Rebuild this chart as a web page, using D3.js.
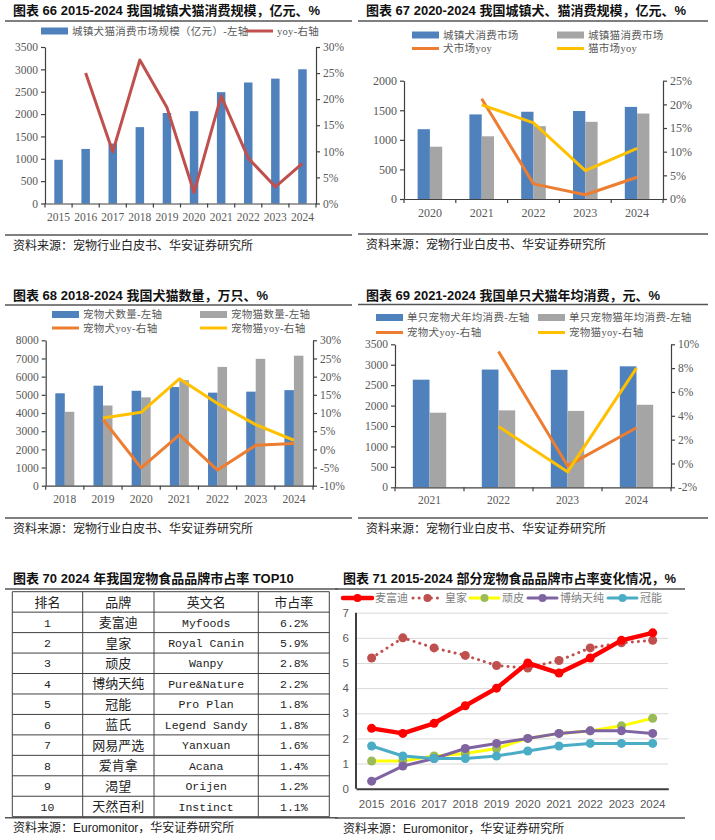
<!DOCTYPE html>
<html>
<head>
<meta charset="utf-8">
<script src="https://cdn.jsdelivr.net/npm/d3@7"></script>
<style>
  body { margin: 0; background: #fff; }
</style>
</head>
<body>
<svg id="page" width="715" height="840"></svg>
<script>
// ---- data: 图表66 ----
const years66 = ["2015", "2016", "2017", "2018", "2019", "2020", "2021", "2022", "2023", "2024"];
const scale66 = [978, 1220, 1340, 1708, 2024, 2065, 2490, 2706, 2793, 3002];
const yoy66 = [null, 25.0, 9.9, 27.5, 18.4, 2.1, 20.6, 8.7, 3.2, 7.7];

// ---- data: 图表67 ----
const years67 = ["2020", "2021", "2022", "2023", "2024"];
const dog67 = [1180, 1430, 1475, 1488, 1557];
const cat67 = [884, 1060, 1231, 1305, 1445];
const dogYoy67 = [null, 21.2, 3.2, 0.9, 4.6];
const catYoy67 = [null, 19.9, 16.1, 6.0, 10.7];

// ---- data: 图表68 ----
const years68 = ["2018", "2019", "2020", "2021", "2022", "2023", "2024"];
const dog68 = [5085, 5503, 5222, 5429, 5119, 5175, 5258];
const cat68 = [4064, 4412, 4862, 5806, 6536, 6980, 7153];
const dogYoy68 = [null, 8.2, -5.1, 4.0, -5.7, 1.1, 1.6];
const catYoy68 = [null, 8.6, 10.2, 19.4, 12.6, 6.8, 2.5];

// ---- data: 图表69 ----
const years69 = ["2021", "2022", "2023", "2024"];
const dog69 = [2634, 2882, 2875, 2961];
const cat69 = [1826, 1883, 1870, 2020];
const dogYoy69 = [null, 9.4, -0.2, 3.0];
const catYoy69 = [null, 3.1, -0.7, 8.0];

// ---- data: 图表70 ----
const tableHead = ["排名", "品牌", "英文名", "市占率"];
const ranks = ["1", "2", "3", "4", "5", "6", "7", "8", "9", "10"];
const brandCn = ["麦富迪", "皇家", "顽皮", "博纳天纯", "冠能", "蓝氏", "网易严选", "爱肯拿", "渴望", "天然百利"];
const brandEn = ["Myfoods", "Royal Canin", "Wanpy", "Pure&Nature", "Pro Plan", "Legend Sandy", "Yanxuan", "Acana", "Orijen", "Instinct"];
const share70 = ["6.2%", "5.9%", "2.8%", "2.2%", "1.8%", "1.8%", "1.6%", "1.4%", "1.2%", "1.1%"];

// ---- data: 图表71 ----
const years71 = ["2015", "2016", "2017", "2018", "2019", "2020", "2021", "2022", "2023", "2024"];
const myfoods = [2.4, 2.2, 2.6, 3.3, 4.0, 5.0, 4.6, 5.2, 5.9, 6.2];
const royal = [5.2, 6.0, 5.6, 5.3, 4.9, 4.8, 5.1, 5.6, 5.8, 5.9];
const wanpy = [1.1, 1.1, 1.3, 1.4, 1.6, 2.0, 2.2, 2.3, 2.5, 2.8];
const pureNature = [0.3, 0.9, 1.2, 1.6, 1.8, 2.0, 2.2, 2.3, 2.3, 2.2];
const proPlan = [1.7, 1.3, 1.2, 1.2, 1.3, 1.5, 1.7, 1.8, 1.8, 1.8];

const svg = d3.select("#page");
const SERIF = '"Liberation Serif", "Noto Sans CJK SC", serif';
const SANS = '"Liberation Sans", "Noto Sans CJK SC", sans-serif';
const MONO = '"Liberation Mono", "Noto Sans CJK SC", monospace';
const BLUE = "#4F81BD", GRAY = "#A5A5A5", ORANGE = "#ED7D31", YELLOW = "#FFC000", DARKRED = "#C0504D";
const AXIS = "#404040", LABEL = "#595959";

// title, rules and source line of one panel
function frame(x0, x1, titleY, ruleY, srcRuleY, srcY, title, source) {
    svg.append("text")
        .attr("x", x0 + 8).attr("y", titleY)
        .attr("font-family", SANS).attr("font-weight", "bold")
        .attr("font-size", 13).attr("fill", "#111")
        .text(title);
    svg.append("line")
        .attr("x1", x0).attr("x2", x1).attr("y1", ruleY).attr("y2", ruleY)
        .attr("stroke", "#555").attr("stroke-width", 1.5);
    svg.append("line")
        .attr("x1", x0).attr("x2", x1).attr("y1", srcRuleY).attr("y2", srcRuleY)
        .attr("stroke", "#555").attr("stroke-width", 1.5);
    svg.append("text")
        .attr("x", x0 + 8).attr("y", srcY)
        .attr("font-family", SANS).attr("font-size", 12).attr("fill", "#222")
        .text(source);
}

function legend(items) {
    items.forEach(it => {
        if (it.type === "rect") {
            svg.append("rect").attr("x", it.x).attr("y", it.y - 3.5)
                .attr("width", 27).attr("height", 7).attr("fill", it.color);
        } else {
            svg.append("line").attr("x1", it.x).attr("x2", it.x + 27)
                .attr("y1", it.y).attr("y2", it.y)
                .attr("stroke", it.color).attr("stroke-width", 3);
        }
        svg.append("text")
            .attr("x", it.x + 31).attr("y", it.y).attr("dy", "0.36em")
            .attr("font-family", SERIF).attr("font-size", 10.5)
            .attr("letter-spacing", 0.3).attr("fill", LABEL)
            .text(it.label);
    });
}

function styleAxis(g, size) {
    g.attr("font-family", SERIF).attr("font-size", size);
    g.selectAll("text").attr("fill", LABEL);
    g.selectAll("line, path").attr("stroke", AXIS).attr("stroke-width", 1.2);
}

// bar + line chart with two y axes
function combo(o) {
    const x = d3.scaleBand().domain(o.cats).range([o.left, o.right]);
    const yL = d3.scaleLinear().domain(o.leftDomain).range([o.bottom, o.top]);
    const yR = d3.scaleLinear().domain(o.rightDomain).range([o.bottom, o.top]);
    const fs = o.fontSize || 11.5;

    // bars
    o.bars.forEach((b, i) => {
        const n = o.bars.length;
        svg.append("g").selectAll("rect")
            .data(o.cats.map((c, j) => ({ c, v: b.values[j] })))
            .enter().append("rect")
            .attr("x", d => x(d.c) + x.bandwidth() / 2 - n * o.barW / 2 + i * o.barW)
            .attr("y", d => yL(d.v))
            .attr("width", o.barW)
            .attr("height", d => yL(0) - yL(d.v))
            .attr("fill", b.color);
    });

    // axes
    const gL = svg.append("g").attr("transform", `translate(${o.left},0)`)
        .call(d3.axisLeft(yL).tickValues(o.leftTicks).tickSize(4).tickSizeOuter(0).tickPadding(3).tickFormat(d3.format("d")));
    styleAxis(gL, fs);
    const gR = svg.append("g").attr("transform", `translate(${o.right},0)`)
        .call(d3.axisRight(yR).tickValues(o.rightTicks).tickSize(4).tickSizeOuter(0).tickPadding(3).tickFormat(d => d + "%"));
    styleAxis(gR, fs);
    const gB = svg.append("g").attr("transform", `translate(0,${yL(0)})`)
        .call(d3.axisBottom(x).tickSize(0).tickSizeOuter(0).tickPadding(o.labelPad));
    styleAxis(gB, fs);
    // category boundary ticks
    svg.append("g").selectAll("line")
        .data(o.cats.map(c => x(c)).concat([o.right]))
        .enter().append("line")
        .attr("x1", d => d).attr("x2", d => d)
        .attr("y1", yL(0)).attr("y2", yL(0) + 4)
        .attr("stroke", AXIS).attr("stroke-width", 1.2);

    // yoy lines
    o.lines.forEach(l => {
        const pts = o.cats.map((c, j) => ({ c, v: l.values[j] })).filter(d => d.v != null);
        svg.append("path")
            .datum(pts)
            .attr("fill", "none")
            .attr("stroke", l.color)
            .attr("stroke-width", 3)
            .attr("stroke-linejoin", "round")
            .attr("d", d3.line().x(d => x(d.c) + x.bandwidth() / 2).y(d => yR(d.v)));
    });
}

// ================= 图表66 =================
frame(5, 352, 15, 21, 235, 250, "图表 66 2015-2024 我国城镇犬猫消费规模，亿元、%", "资料来源：宠物行业白皮书、华安证券研究所");
legend([
    { type: "rect", color: BLUE, x: 41, y: 31, label: "城镇犬猫消费市场规模（亿元）-左轴" },
    { type: "line", color: DARKRED, x: 246, y: 31, label: "yoy-右轴" }
]);
combo({
    cats: years66, left: 45, right: 316, top: 47, bottom: 203.5,
    leftDomain: [0, 3500], leftTicks: d3.range(0, 3501, 500),
    rightDomain: [0, 30], rightTicks: d3.range(0, 31, 5),
    barW: 8.5, labelPad: 9,
    bars: [{ values: scale66, color: BLUE }],
    lines: [{ values: yoy66, color: DARKRED }]
});

// ================= 图表67 =================
frame(358, 708, 15, 21, 234, 249, "图表 67 2020-2024 我国城镇犬、猫消费规模，亿元、%", "资料来源：宠物行业白皮书、华安证券研究所");
legend([
    { type: "rect", color: BLUE, x: 412, y: 35, label: "城镇犬消费市场" },
    { type: "rect", color: GRAY, x: 557, y: 35, label: "城镇猫消费市场" },
    { type: "line", color: ORANGE, x: 412, y: 48.5, label: "犬市场yoy" },
    { type: "line", color: YELLOW, x: 557, y: 48.5, label: "猫市场yoy" }
]);
combo({
    cats: years67, left: 404, right: 663, top: 80.7, bottom: 199,
    leftDomain: [0, 2000], leftTicks: d3.range(0, 2001, 500),
    rightDomain: [0, 25], rightTicks: d3.range(0, 26, 5),
    barW: 12.3, labelPad: 9.5, fontSize: 12,
    bars: [{ values: dog67, color: BLUE }, { values: cat67, color: GRAY }],
    lines: [{ values: dogYoy67, color: ORANGE }, { values: catYoy67, color: YELLOW }]
});

// ================= 图表68 =================
frame(5, 352, 300, 305, 518, 533, "图表 68 2018-2024 我国犬猫数量，万只、%", "资料来源：宠物行业白皮书、华安证券研究所");
legend([
    { type: "rect", color: BLUE, x: 52, y: 314.5, label: "宠物犬数量-左轴" },
    { type: "rect", color: GRAY, x: 200, y: 314.5, label: "宠物猫数量-左轴" },
    { type: "line", color: ORANGE, x: 52, y: 328, label: "宠物犬yoy-右轴" },
    { type: "line", color: YELLOW, x: 200, y: 328, label: "宠物猫yoy-右轴" }
]);
combo({
    cats: years68, left: 45.7, right: 313, top: 340.3, bottom: 485.7,
    leftDomain: [0, 8000], leftTicks: d3.range(0, 8001, 1000),
    rightDomain: [-10, 30], rightTicks: d3.range(-10, 31, 5),
    barW: 9.5, labelPad: 9,
    bars: [{ values: dog68, color: BLUE }, { values: cat68, color: GRAY }],
    lines: [{ values: dogYoy68, color: ORANGE }, { values: catYoy68, color: YELLOW }]
});

// ================= 图表69 =================
frame(358, 708, 300, 304.5, 518, 533, "图表 69 2021-2024 我国单只犬猫年均消费，元、%", "资料来源：宠物行业白皮书、华安证券研究所");
legend([
    { type: "rect", color: BLUE, x: 376, y: 317.5, label: "单只宠物犬年均消费-左轴" },
    { type: "rect", color: GRAY, x: 538, y: 317.5, label: "单只宠物猫年均消费-左轴" },
    { type: "line", color: ORANGE, x: 376, y: 332.5, label: "宠物犬yoy-右轴" },
    { type: "line", color: YELLOW, x: 538, y: 332.5, label: "宠物猫yoy-右轴" }
]);
combo({
    cats: years69, left: 395, right: 671, top: 344.3, bottom: 487.3,
    leftDomain: [0, 3500], leftTicks: d3.range(0, 3501, 500),
    rightDomain: [-2, 10], rightTicks: d3.range(-2, 11, 2),
    barW: 16.7, labelPad: 8.5,
    bars: [{ values: dog69, color: BLUE }, { values: cat69, color: GRAY }],
    lines: [{ values: dogYoy69, color: ORANGE }, { values: catYoy69, color: YELLOW }]
});

// ================= 图表70 (table) =================
frame(5, 338, 583, 589, 817.7, 832, "图表 70 2024 年我国宠物食品品牌市占率 TOP10", "资料来源：Euromonitor，华安证券研究所");
{
    const colEdges = [12.3, 82.7, 154, 258.3, 329.3];
    const rows = [tableHead].concat(ranks.map((r, i) => [r, brandCn[i], brandEn[i], share70[i]]));
    const ty = d3.scaleBand().domain(d3.range(rows.length)).range([591.7, 816.7]);
    const g = svg.append("g");
    // grid lines
    g.selectAll(".hl").data(d3.range(rows.length + 1)).enter().append("line")
        .attr("x1", colEdges[0]).attr("x2", colEdges[4])
        .attr("y1", i => i < rows.length ? ty(i) : ty.range()[1])
        .attr("y2", i => i < rows.length ? ty(i) : ty.range()[1])
        .attr("stroke", AXIS).attr("stroke-width", 1);
    g.selectAll(".vl").data(colEdges).enter().append("line")
        .attr("x1", d => d).attr("x2", d => d)
        .attr("y1", ty.range()[0]).attr("y2", ty.range()[1])
        .attr("stroke", AXIS).attr("stroke-width", 1);
    rows.forEach((row, ri) => {
        row.forEach((cell, ci) => {
            const mono = ri > 0 && ci !== 1;
            g.append("text")
                .attr("x", (colEdges[ci] + colEdges[ci + 1]) / 2)
                .attr("y", ty(ri) + ty.bandwidth() / 2)
                .attr("dy", "0.36em")
                .attr("text-anchor", "middle")
                .attr("font-family", mono ? MONO : SANS)
                .attr("font-size", mono ? 11.5 : 13)
                .attr("fill", "#222")
                .text(cell);
        });
    });
}

// ================= 图表71 =================
frame(335, 685, 583, 589, 818, 833, "图表 71 2015-2024 部分宠物食品品牌市占率变化情况，%", "资料来源：Euromonitor，华安证券研究所");
{
    const series = [
        { name: "皇家", values: royal, line: DARKRED, dot: DARKRED, w: 3, dash: "0.1,6" },
        { name: "顽皮", values: wanpy, line: "#FFFF00", dot: "#9BBB59", w: 3 },
        { name: "博纳天纯", values: pureNature, line: "#8064A2", dot: "#8064A2", w: 3 },
        { name: "冠能", values: proPlan, line: "#4BACC6", dot: "#4BACC6", w: 3 },
        { name: "麦富迪", values: myfoods, line: "#FF0000", dot: "#FF0000", w: 4.5 }
    ];
    const left = 356, right = 668.3, top = 612.7, bottom = 788.7;
    const x = d3.scaleBand().domain(years71).range([left, right]);
    const y = d3.scaleLinear().domain([0, 7]).range([bottom, top]);

    const grid = svg.append("g").attr("transform", `translate(${left},0)`)
        .call(d3.axisLeft(y).ticks(7).tickSize(-(right - left)).tickPadding(7));
    grid.select(".domain").remove();
    grid.selectAll("line").attr("stroke", "#d9d9d9").attr("stroke-width", 1);
    grid.attr("font-family", SANS).attr("font-size", 11.5);
    grid.selectAll("text").attr("fill", LABEL);

    const gx = svg.append("g").attr("transform", `translate(0,${bottom})`)
        .call(d3.axisBottom(x).tickSize(0).tickPadding(11));
    gx.attr("font-family", SANS).attr("font-size", 11.5);
    gx.selectAll("text").attr("fill", LABEL);
    gx.select(".domain").attr("stroke", AXIS).attr("stroke-width", 2);
    svg.append("line").attr("x1", left).attr("x2", left).attr("y1", top).attr("y2", bottom)
        .attr("stroke", AXIS).attr("stroke-width", 2);

    const line = d3.line().x((d, i) => x(years71[i]) + x.bandwidth() / 2).y(d => y(d));
    series.forEach(s => {
        svg.append("path").datum(s.values)
            .attr("fill", "none").attr("stroke", s.line).attr("stroke-width", s.w)
            .attr("stroke-linecap", "round").attr("stroke-linejoin", "round")
            .attr("stroke-dasharray", s.dash || null)
            .attr("d", line);
        svg.append("g").selectAll("circle").data(s.values).enter().append("circle")
            .attr("cx", (d, i) => x(years71[i]) + x.bandwidth() / 2)
            .attr("cy", d => y(d))
            .attr("r", 4.5)
            .attr("fill", s.dot);
    });

    // legend in original order
    const legendOrder = [series[4], series[0], series[1], series[2], series[3]];
    const legX = [343, 413, 470, 528, 608];
    legendOrder.forEach((s, i) => {
        const lx = legX[i], ly = 598;
        svg.append("line").attr("x1", lx).attr("x2", lx + 29).attr("y1", ly).attr("y2", ly)
            .attr("stroke", s.line).attr("stroke-width", s.w)
            .attr("stroke-linecap", "round")
            .attr("stroke-dasharray", s.dash || null);
        svg.append("circle").attr("cx", lx + 14.5).attr("cy", ly).attr("r", 4).attr("fill", s.dot);
        svg.append("text").attr("x", lx + 32).attr("y", ly).attr("dy", "0.36em")
            .attr("font-family", SANS).attr("font-size", 11).attr("fill", "#7f7f7f")
            .text(s.name);
    });
}
</script>
</body>
</html>
